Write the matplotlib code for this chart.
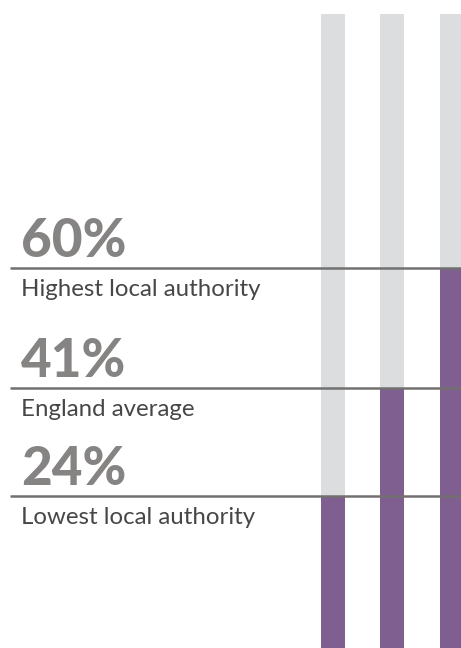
import matplotlib
matplotlib.use('Agg')
from matplotlib import pyplot as plt

values = [24, 41, 60]
big_labels = ['24%', '41%', '60%']
captions = ['Lowest local authority', 'England average', 'Highest local authority']

W, H = 461, 648
DPI = 72  # 1 pt == 1 px, keeps offsets simple

grey = '#dcdddf'
purple = '#7f5f8f'
line_col = '#727070'
num_col = '#868383'
cap_col = '#474747'

fig = plt.figure(figsize=(W / DPI, H / DPI), dpi=DPI)
ax = fig.add_axes([0, 0, 1, 1])
ax.set_xlim(0, W)
# 100% reaches 14px below the top edge
ax.set_ylim(0, 100 * H / (H - 14))
ax.axis('off')

centers = [333, 392, 452]
ax.bar(centers, [100] * 3, width=24, color=grey, zorder=1)
ax.bar(centers, values, width=24, color=purple, zorder=2)

for v, big, cap in zip(values, big_labels, captions):
    ax.plot([10, W], [v, v], color=line_col, lw=2.5, zorder=3,
            solid_capstyle='butt')
    ax.annotate(big, (21, v), xytext=(0, 11), textcoords='offset points',
                fontsize=53, fontweight='black', family='Lato',
                color=num_col, va='baseline', ha='left')
    ax.annotate(cap, (21, v), xytext=(0, -28), textcoords='offset points',
                fontsize=24, family='Lato', color=cap_col,
                va='baseline', ha='left')

fig.savefig('out.png', dpi=DPI)
